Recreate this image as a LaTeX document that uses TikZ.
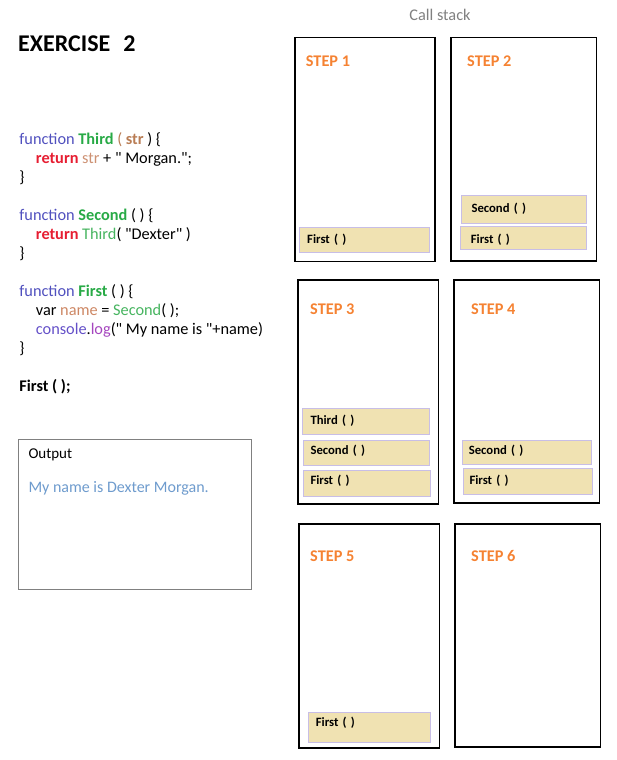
\documentclass[tikz,border=0pt]{standalone}
\usepackage{fontspec}
\setmainfont{Carlito}[Ligatures=TeXOff]
\newcommand\dq{\char34\relax}
\definecolor{kwc}{RGB}{80,80,190}
\definecolor{fnc}{RGB}{40,170,70}
\definecolor{fnr}{RGB}{70,180,95}
\definecolor{strb}{RGB}{185,125,85}
\definecolor{strc}{RGB}{205,145,115}
\definecolor{retc}{RGB}{230,30,50}
\definecolor{nmc}{RGB}{205,135,100}
\definecolor{conc}{RGB}{100,80,200}
\definecolor{logc}{RGB}{165,70,190}
\definecolor{outc}{RGB}{110,155,205}
\definecolor{stepc}{RGB}{245,130,50}
\definecolor{tanc}{RGB}{240,226,178}
\definecolor{lavc}{RGB}{200,190,230}
\definecolor{grayc}{RGB}{128,128,128}
\tikzset{
  txt/.style={anchor=base west, inner sep=0pt},
  code/.style={txt, font=\fontsize{16.3}{19}\selectfont},
  stepbox/.style={draw=black, line width=1.2pt, anchor=north west, inner sep=0pt},
  steplabel/.style={txt, text=stepc, font=\bfseries\fontsize{16.3}{19}\selectfont},
  framebox/.style={draw=lavc, fill=tanc, line width=1pt, anchor=north west, inner ysep=0pt,
    text height=6pt, text depth=0pt, align=left, font=\bfseries\fontsize{12.7}{14}\selectfont},
}
\begin{document}
\begin{tikzpicture}[x=1pt,y=-1pt]
\useasboundingbox (0,0) rectangle (617,760);
% title
\node[txt, font=\bfseries\fontsize{24}{28}\selectfont] (title) at (18,52) {EXERCISE\hspace{13pt}2};
\node[anchor=base, inner sep=0pt, text=grayc, font=\fontsize{16.3}{19}\selectfont] (callstack) at (440,21) {Call stack};
% code
\node[code] (l1) at (19.3,144) {{\color{kwc}function} {\bfseries\color{fnc}Third} {\color{strb}(} {\bfseries\color{strb}str} ) \{};
\node[code] (l2) at (35.7,163) {{\bfseries\color{retc}return} {\color{strc}str} + \dq{} Morgan.\dq;};
\node[code] (l3) at (19.3,182) {\}};
\node[code] (l5) at (19.3,220) {{\color{kwc}function} {\bfseries\color{fnc}Second} ( ) \{};
\node[code] (l6) at (35.7,239) {{\bfseries\color{retc}return} {\color{fnr}Third}( \dq Dexter\dq{} )};
\node[code] (l7) at (19.3,258) {\}};
\node[code] (l9) at (19.3,296) {{\color{kwc}function} {\bfseries\color{fnc}First} ( ) \{};
\node[code] (l10) at (35.7,315) {var {\color{nmc}name} = {\color{fnr}Second}( );};
\node[code] (l11) at (35.7,334) {{\color{conc}console}.{\color{logc}log}(\dq{} My name is \dq+name)};
\node[code] (l12) at (19.3,353) {\}};
\node[code, font=\bfseries\fontsize{16.3}{19}\selectfont] (l14) at (19.3,391) {First ( );};
% output
\node[draw=grayc, line width=1pt, anchor=north west, inner sep=0pt, minimum width=233pt, minimum height=150pt] (outbox) at (18.3,439.3) {};
\node[txt, font=\fontsize{15}{18}\selectfont] (outtitle) at (28.3,458.3) {Output};
\node[txt, text=outc, font=\fontsize{16}{19}\selectfont] (outtext) at (28.3,492.7) {My name is Dexter Morgan.};
% step frames
\node[stepbox, minimum width=140pt, minimum height=223.7pt] (step1) at (294.3,37.3) {};
\node[stepbox, minimum width=145.4pt, minimum height=223pt] (step2) at (450.3,37.3) {};
\node[stepbox, minimum width=140.4pt, minimum height=224pt] (step3) at (297.3,279.3) {};
\node[stepbox, minimum width=145.4pt, minimum height=223pt] (step4) at (453.3,279.3) {};
\node[stepbox, minimum width=140.4pt, minimum height=224pt] (step5) at (298.3,523.3) {};
\node[stepbox, minimum width=145.4pt, minimum height=223pt] (step6) at (454.3,523.3) {};
\node[steplabel] (lab1) at (305.7,66.7) {STEP 1};
\node[steplabel] (lab2) at (467,66.7) {STEP 2};
\node[steplabel] (lab3) at (310,314.3) {STEP 3};
\node[steplabel] (lab4) at (471,314.3) {STEP 4};
\node[steplabel] (lab5) at (310,561) {STEP 5};
\node[steplabel] (lab6) at (471,561) {STEP 6};
% stack frames
\node[framebox, inner xsep=7.7pt, minimum width=129.7pt, minimum height=25pt, text width=114.3pt] (f1a) at (299,227.3) {First ( )};
\node[framebox, inner xsep=10pt, minimum width=125.3pt, minimum height=28.3pt, text width=105.3pt] (f2b) at (461,195) {Second ( )};
\node[framebox, inner xsep=10pt, minimum width=125.4pt, minimum height=23pt, text width=105.4pt, text height=10pt] (f2a) at (460.3,226.3) {First ( )};
\node[framebox, inner xsep=7.7pt, minimum width=126.4pt, minimum height=25.4pt, text width=111pt] (f3c) at (302.3,408.3) {Third ( )};
\node[framebox, inner xsep=6.7pt, minimum width=125.4pt, minimum height=25.3pt, text width=112pt, text height=3pt] (f3b) at (303.3,440) {Second ( )};
\node[framebox, inner xsep=6.7pt, minimum width=126.4pt, minimum height=26.3pt, text width=113pt, text height=2pt] (f3a) at (303.3,470) {First ( )};
\node[framebox, inner xsep=6.3pt, minimum width=128.7pt, minimum height=24.3pt, text width=116.1pt, text height=4pt] (f4b) at (462,440) {Second ( )};
\node[framebox, inner xsep=6pt, minimum width=128.7pt, minimum height=25.7pt, text width=116.7pt] (f4a) at (463,468) {First ( )};
\node[framebox, inner xsep=7.3pt, minimum width=121.7pt, minimum height=29.4pt, text width=107.1pt, text height=3pt, text depth=5pt] (f5a) at (308,712.3) {First ( )};
\end{tikzpicture}
\end{document}
